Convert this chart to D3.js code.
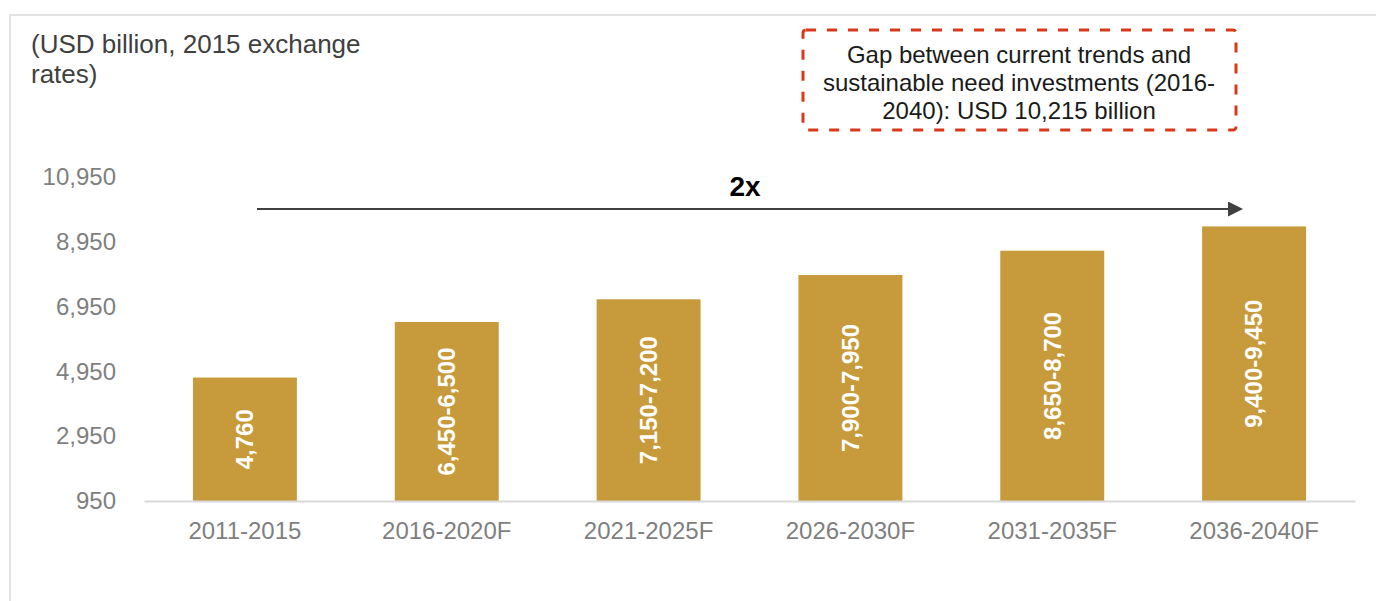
<!DOCTYPE html>
<html>
<head>
<meta charset="utf-8">
<script src="https://cdn.jsdelivr.net/npm/d3@7"></script>
<style>
  html, body { margin: 0; padding: 0; background: #fff; }
  svg { display: block; font-family: "Liberation Sans", Arial, sans-serif; }
</style>
</head>
<body>
<svg id="chart" width="1376" height="601"></svg>
<script>
// Investment by period, USD billion (2015 exchange rates)
const periods = ["2011-2015", "2016-2020F", "2021-2025F", "2026-2030F", "2031-2035F", "2036-2040F"];
const barValues = [4760, 6475, 7175, 7925, 8675, 9425];
const barLabels = ["4,760", "6,450-6,500", "7,150-7,200", "7,900-7,950", "8,650-8,700", "9,400-9,450"];
const yTicks = [950, 2950, 4950, 6950, 8950, 10950];
const yTitleLines = ["(USD billion, 2015 exchange", "rates)"];
const noteLines = ["Gap between current trends and", "sustainable need investments (2016-", "2040): USD 10,215 billion"];
const growthLabel = "2x";

const svg = d3.select("#chart");
const W = 1376, H = 601;

// Panel frame
svg.append("path")
  .attr("d", `M10,${H} V15 H${W}`)
  .attr("fill", "none")
  .attr("stroke", "#e3e3e3")
  .attr("stroke-width", 2);

const x = d3.scaleBand()
  .domain(periods)
  .range([144, 1355])
  .paddingInner(0.485)
  .paddingOuter(0.2425);

const y = d3.scaleLinear()
  .domain([950, 10950])
  .range([501, 177]);

const fmt = d3.format(",");

// Y axis labels (no axis line)
const yAxis = svg.append("g")
  .attr("transform", "translate(116,0)")
  .call(d3.axisLeft(y).tickValues(yTicks).tickFormat(fmt).tickSize(0).tickPadding(0));
yAxis.select(".domain").remove();
yAxis.selectAll("text")
  .attr("fill", "#7f7f7f")
  .style("font-size", "24px")
  .style("font-family", "'Liberation Sans', Arial, sans-serif");

// Bars
svg.append("g").selectAll("rect")
  .data(periods)
  .join("rect")
  .attr("x", d => x(d))
  .attr("width", x.bandwidth())
  .attr("y", (d, i) => y(barValues[i]))
  .attr("height", (d, i) => y(950) - y(barValues[i]))
  .attr("fill", "#c79a3b");

// Category axis
const xAxis = svg.append("g")
  .attr("transform", `translate(0,${y(950)})`)
  .call(d3.axisBottom(x).tickSize(0).tickPadding(21));
xAxis.select(".domain")
  .attr("stroke", "#d9d9d9")
  .attr("stroke-width", 2);
xAxis.selectAll("text")
  .attr("fill", "#7f7f7f")
  .style("font-size", "24px")
  .style("font-family", "'Liberation Sans', Arial, sans-serif");

// Value labels inside bars, rotated
svg.append("g").selectAll("text")
  .data(periods)
  .join("text")
  .attr("transform", (d, i) => {
    const cx = x(d) + x.bandwidth() / 2;
    const cy = (y(barValues[i]) + y(950)) / 2;
    return `translate(${cx},${cy}) rotate(-90)`;
  })
  .attr("text-anchor", "middle")
  .attr("dy", "0.35em")
  .attr("fill", "#ffffff")
  .style("font-size", "24px")
  .style("font-weight", "bold")
  .text((d, i) => barLabels[i]);

// Y axis title
svg.append("text")
  .attr("fill", "#404040")
  .style("font-size", "26px")
  .selectAll("tspan")
  .data(yTitleLines)
  .join("tspan")
  .attr("x", 31)
  .attr("y", (d, i) => 53 + i * 30)
  .text(d => d);

// Growth arrow
const defs = svg.append("defs");
defs.append("marker")
  .attr("id", "arrowHead")
  .attr("viewBox", "0 0 10 10")
  .attr("refX", 0)
  .attr("refY", 5)
  .attr("markerWidth", 7.5)
  .attr("markerHeight", 7.5)
  .attr("markerUnits", "strokeWidth")
  .attr("orient", "auto")
  .append("path")
  .attr("d", "M0,0 L10,5 L0,10 Z")
  .attr("fill", "#404040");

svg.append("line")
  .attr("x1", 257)
  .attr("x2", 1228)
  .attr("y1", 209)
  .attr("y2", 209)
  .attr("stroke", "#404040")
  .attr("stroke-width", 2)
  .attr("marker-end", "url(#arrowHead)");

svg.append("text")
  .attr("x", 745)
  .attr("y", 196)
  .attr("text-anchor", "middle")
  .attr("fill", "#000")
  .style("font-size", "28px")
  .style("font-weight", "bold")
  .text(growthLabel);

// Annotation box
svg.append("rect")
  .attr("x", 803)
  .attr("y", 30)
  .attr("width", 433)
  .attr("height", 100)
  .attr("rx", 3)
  .attr("fill", "none")
  .attr("stroke", "#d9391a")
  .attr("stroke-width", 3)
  .attr("stroke-dasharray", "10,11");

svg.append("text")
  .attr("text-anchor", "middle")
  .attr("fill", "#1a1a1a")
  .style("font-size", "24px")
  .selectAll("tspan")
  .data(noteLines)
  .join("tspan")
  .attr("x", 1019)
  .attr("y", (d, i) => 63 + i * 28)
  .text(d => d);
</script>
</body>
</html>
